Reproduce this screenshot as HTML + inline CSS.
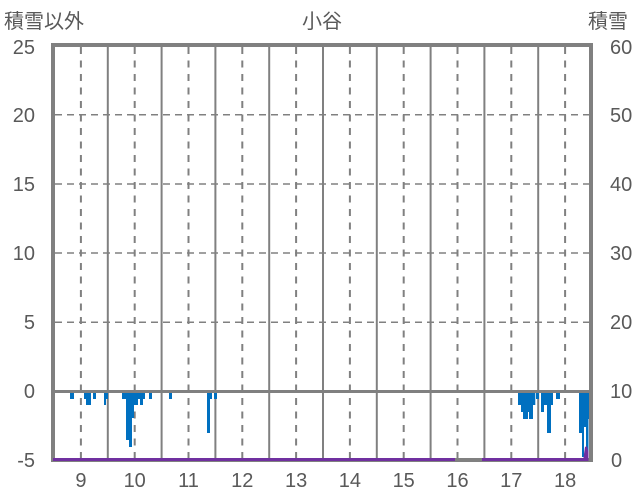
<!DOCTYPE html>
<html><head><meta charset="utf-8"><style>
html,body{margin:0;padding:0;background:#fff;}
svg{display:block;}
text{font-family:"Liberation Sans","Noto Sans CJK JP",sans-serif;fill:#595959;}
</style></head><body>
<svg width="636" height="501" viewBox="0 0 636 501" xmlns="http://www.w3.org/2000/svg">
<rect width="636" height="501" fill="#fff"/>
<!-- horizontal dashed gridlines -->
<g stroke="#808080" stroke-width="1.5" stroke-dasharray="7,5">
<line x1="55" y1="114.7" x2="589" y2="114.7"/>
<line x1="55" y1="184" x2="589" y2="184"/>
<line x1="55" y1="253" x2="589" y2="253"/>
<line x1="55" y1="322.3" x2="589" y2="322.3"/>
</g>
<!-- vertical solid lines -->
<g stroke="#808080" stroke-width="2">
<line x1="107.8" y1="45" x2="107.8" y2="460"/>
<line x1="161.6" y1="45" x2="161.6" y2="460"/>
<line x1="215.4" y1="45" x2="215.4" y2="460"/>
<line x1="269.2" y1="45" x2="269.2" y2="460"/>
<line x1="323" y1="45" x2="323" y2="460"/>
<line x1="376.8" y1="45" x2="376.8" y2="460"/>
<line x1="430.6" y1="45" x2="430.6" y2="460"/>
<line x1="484.4" y1="45" x2="484.4" y2="460"/>
<line x1="538.2" y1="45" x2="538.2" y2="460"/>
</g>
<!-- vertical dashed lines -->
<g stroke="#808080" stroke-width="2" stroke-dasharray="7,6.5">
<line x1="80.9" y1="47" x2="80.9" y2="460"/>
<line x1="134.7" y1="47" x2="134.7" y2="460"/>
<line x1="188.5" y1="47" x2="188.5" y2="460"/>
<line x1="242.3" y1="47" x2="242.3" y2="460"/>
<line x1="296.1" y1="47" x2="296.1" y2="460"/>
<line x1="349.9" y1="47" x2="349.9" y2="460"/>
<line x1="403.7" y1="47" x2="403.7" y2="460"/>
<line x1="457.5" y1="47" x2="457.5" y2="460"/>
<line x1="511.3" y1="47" x2="511.3" y2="460"/>
<line x1="565.1" y1="47" x2="565.1" y2="460"/>
</g>
<!-- bars -->
<g fill="#0070C0">
<rect x="70" y="391" width="4" height="8"/>
<rect x="84" y="391" width="2" height="8"/>
<rect x="86" y="391" width="5" height="14"/>
<rect x="93" y="391" width="3" height="8"/>
<rect x="104" y="391" width="2" height="14"/>
<rect x="106" y="391" width="2" height="8"/>
<rect x="122" y="391" width="4" height="8"/>
<rect x="126" y="391" width="3" height="49"/>
<rect x="129" y="391" width="3" height="56"/>
<rect x="132" y="391" width="2" height="27"/>
<rect x="134" y="391" width="4" height="14"/>
<rect x="138" y="391" width="2" height="8"/>
<rect x="140" y="391" width="3" height="14"/>
<rect x="143" y="391" width="2" height="8"/>
<rect x="149" y="391" width="3" height="8"/>
<rect x="169" y="391" width="3" height="8"/>
<rect x="207" y="391" width="3" height="42"/>
<rect x="210" y="391" width="2" height="8"/>
<rect x="214" y="391" width="3" height="8"/>
<rect x="518" y="391" width="3" height="14"/>
<rect x="521" y="391" width="2" height="21"/>
<rect x="523" y="391" width="5" height="28"/>
<rect x="528" y="391" width="1" height="21"/>
<rect x="529" y="391" width="4" height="28"/>
<rect x="533" y="391" width="2.3" height="14"/>
<rect x="536" y="391" width="3" height="8"/>
<rect x="541" y="391" width="3" height="21"/>
<rect x="544" y="391" width="3" height="14"/>
<rect x="547" y="391" width="4" height="42"/>
<rect x="551" y="391" width="2" height="14"/>
<rect x="556" y="391" width="4" height="8"/>
<rect x="579" y="391" width="3" height="42"/>
<rect x="582" y="391" width="2" height="66"/>
<rect x="584" y="391" width="2" height="36"/>
<rect x="586" y="391" width="2.5" height="66"/>
<rect x="588.5" y="391" width="2.5" height="28"/>
</g>
<!-- zero line -->
<line x1="53" y1="391.5" x2="591" y2="391.5" stroke="#808080" stroke-width="3"/>
<!-- frame -->
<rect x="53" y="45" width="538" height="415" fill="none" stroke="#808080" stroke-width="4"/>
<!-- snow depth (purple) -->
<g fill="#7030A0">
<rect x="53" y="458" width="402" height="3"/>
<rect x="482" y="458" width="102" height="3"/>
<polygon points="583,461 585,447 587,446 588.5,452 588.5,461"/>
</g>
<!-- titles -->
<text x="4" y="28" font-size="20">積雪以外</text>
<text x="322" y="28" font-size="20" text-anchor="middle">小谷</text>
<text x="588" y="28" font-size="20">積雪</text>
<!-- left axis labels -->
<g font-size="20" text-anchor="end">
<text x="35" y="54">25</text>
<text x="35" y="122">20</text>
<text x="35" y="191">15</text>
<text x="35" y="260">10</text>
<text x="35" y="329">5</text>
<text x="35" y="398">0</text>
<text x="35" y="467">-5</text>
</g>
<!-- right axis labels -->
<g font-size="20">
<text x="610" y="54">60</text>
<text x="610" y="122">50</text>
<text x="610" y="191">40</text>
<text x="610" y="260">30</text>
<text x="610" y="329">20</text>
<text x="610" y="398">10</text>
<text x="611" y="467">0</text>
</g>
<!-- x labels -->
<g font-size="20" text-anchor="middle">
<text x="80.9" y="487">9</text>
<text x="134.7" y="487">10</text>
<text x="188.5" y="487">11</text>
<text x="242.3" y="487">12</text>
<text x="296.1" y="487">13</text>
<text x="349.9" y="487">14</text>
<text x="403.7" y="487">15</text>
<text x="457.5" y="487">16</text>
<text x="511.3" y="487">17</text>
<text x="565.1" y="487">18</text>
</g>
</svg>
</body></html>
